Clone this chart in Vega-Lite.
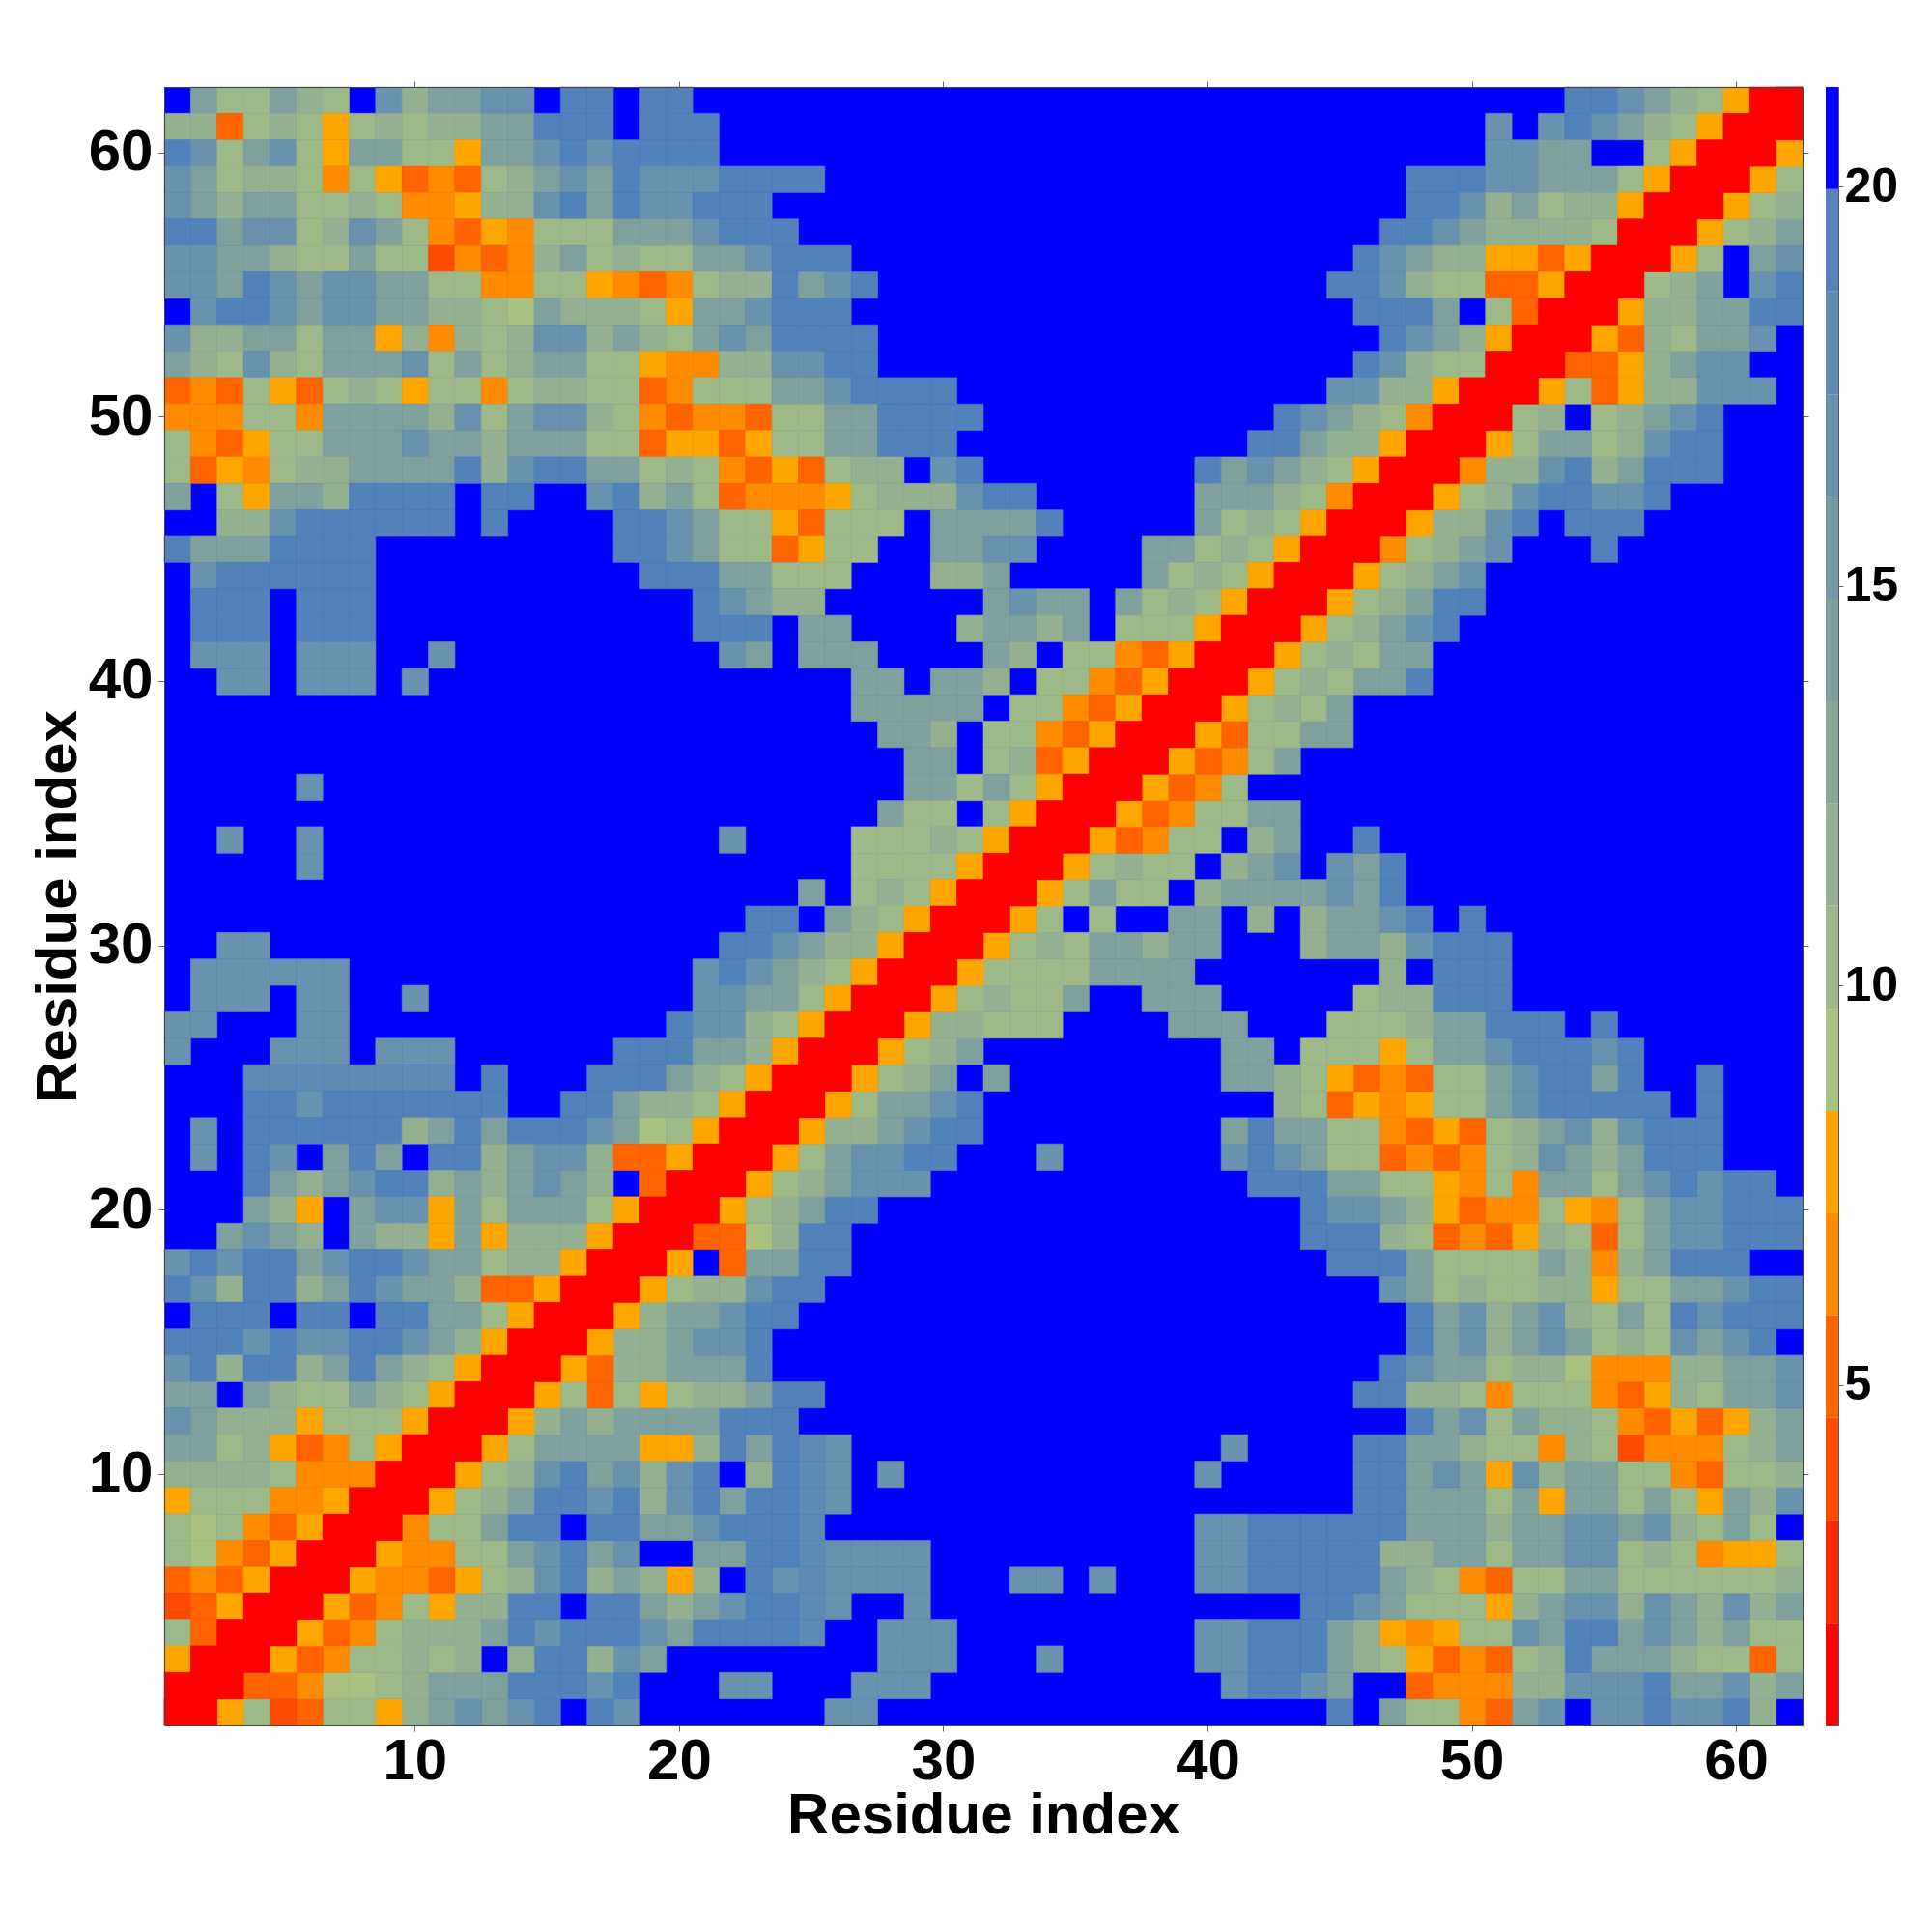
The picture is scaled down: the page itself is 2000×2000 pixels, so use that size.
{"$schema":"https://vega.github.io/schema/vega-lite/v6.json","background":"white","padding":{"left":30,"top":83,"right":0,"bottom":0},"spacing":16,"config":{"view":{"stroke":null},"font":"Liberation Sans"},"hconcat":[{"width":1696,"height":1696,"view":{"fill":"#0000ff"},"resolve":{"axis":{"x":"independent","y":"independent"}},"data":{"name":"cells"},"layer":[{"mark":{"type":"rect","strokeWidth":0.6},"encoding":{"x":{"field":"x","type":"ordinal","scale":{"domain":[1,2,3,4,5,6,7,8,9,10,11,12,13,14,15,16,17,18,19,20,21,22,23,24,25,26,27,28,29,30,31,32,33,34,35,36,37,38,39,40,41,42,43,44,45,46,47,48,49,50,51,52,53,54,55,56,57,58,59,60,61,62],"paddingInner":0,"paddingOuter":0},"axis":{"orient":"bottom","values":[10,20,30,40,50,60],"labelAngle":0,"labelFontSize":60,"labelFontWeight":"bold","labelColor":"black","labelPadding":2,"tickSize":6,"tickColor":"#666","domainColor":"#444","title":"Residue index","titleFontSize":60,"titleFontWeight":"bold","titleColor":"black","titlePadding":-3}},"y":{"field":"y","type":"ordinal","scale":{"domain":[1,2,3,4,5,6,7,8,9,10,11,12,13,14,15,16,17,18,19,20,21,22,23,24,25,26,27,28,29,30,31,32,33,34,35,36,37,38,39,40,41,42,43,44,45,46,47,48,49,50,51,52,53,54,55,56,57,58,59,60,61,62],"paddingInner":0,"paddingOuter":0,"reverse":true},"axis":{"orient":"left","values":[10,20,30,40,50,60],"labelAngle":0,"labelFontSize":60,"labelFontWeight":"bold","labelColor":"black","labelPadding":6,"tickSize":6,"tickColor":"#666","domainColor":"#444","title":"Residue index","titleFontSize":60,"titleFontWeight":"bold","titleColor":"black","titlePadding":0}},"color":{"field":"v","type":"quantitative","legend":null,"scale":{"type":"threshold","domain":[2.02,3.3,4.59,5.87,7.15,8.43,9.71,11,12.28,13.56,14.84,16.12,17.4,18.69,19.97],"range":["#ff0000","#ff2800","#ff4b00","#ff6400","#ff8c00","#ffa500","#a9c181","#9eb988","#93b190","#89a997","#7ea19e","#739aa5","#6892ad","#5e8ab4","#5382bb","#0000ff"]}},"stroke":{"field":"v","type":"quantitative","legend":null,"scale":{"type":"threshold","domain":[2.02,3.3,4.59,5.87,7.15,8.43,9.71,11,12.28,13.56,14.84,16.12,17.4,18.69,19.97],"range":["#ff0000","#ff2800","#ff4b00","#ff6400","#ff8c00","#ffa500","#a9c181","#9eb988","#93b190","#89a997","#7ea19e","#739aa5","#6892ad","#5e8ab4","#5382bb","#0000ff"]}}}},{"mark":{"type":"rect","strokeWidth":0.6},"encoding":{"x":{"field":"y","type":"ordinal","axis":null},"y":{"field":"x","type":"ordinal","axis":null},"color":{"field":"v","type":"quantitative","legend":null,"scale":{"type":"threshold","domain":[2.02,3.3,4.59,5.87,7.15,8.43,9.71,11,12.28,13.56,14.84,16.12,17.4,18.69,19.97],"range":["#ff0000","#ff2800","#ff4b00","#ff6400","#ff8c00","#ffa500","#a9c181","#9eb988","#93b190","#89a997","#7ea19e","#739aa5","#6892ad","#5e8ab4","#5382bb","#0000ff"]}},"stroke":{"field":"v","type":"quantitative","legend":null,"scale":{"type":"threshold","domain":[2.02,3.3,4.59,5.87,7.15,8.43,9.71,11,12.28,13.56,14.84,16.12,17.4,18.69,19.97],"range":["#ff0000","#ff2800","#ff4b00","#ff6400","#ff8c00","#ffa500","#a9c181","#9eb988","#93b190","#89a997","#7ea19e","#739aa5","#6892ad","#5e8ab4","#5382bb","#0000ff"]}}}},{"data":{"values":[{"x":1,"y":1}]},"mark":{"type":"rect","opacity":0},"encoding":{"x":{"field":"x","type":"ordinal","axis":{"orient":"top","values":[10,20,30,40,50,60],"labels":false,"tickSize":6,"tickColor":"#666","domainColor":"#444","title":null}},"y":{"field":"y","type":"ordinal","axis":{"orient":"right","values":[10,20,30,40,50,60],"labels":false,"tickSize":6,"tickColor":"#666","domainColor":"#444","title":null}}}}]},{"width":13,"height":1696,"view":{"stroke":"#556"},"data":{"values":[{"lo":0.74,"hi":2.02,"v":1},{"lo":2.02,"hi":3.3,"v":3},{"lo":3.3,"hi":4.59,"v":4},{"lo":4.59,"hi":5.87,"v":5},{"lo":5.87,"hi":7.15,"v":6},{"lo":7.15,"hi":8.43,"v":8},{"lo":8.43,"hi":9.71,"v":9},{"lo":9.71,"hi":11,"v":10},{"lo":11,"hi":12.28,"v":12},{"lo":12.28,"hi":13.56,"v":13},{"lo":13.56,"hi":14.84,"v":14},{"lo":14.84,"hi":16.12,"v":15},{"lo":16.12,"hi":17.4,"v":17},{"lo":17.4,"hi":18.69,"v":18},{"lo":18.69,"hi":19.97,"v":19},{"lo":19.97,"hi":21.25,"v":21}]},"mark":{"type":"rect","strokeWidth":0},"encoding":{"y":{"field":"lo","type":"quantitative","scale":{"domain":[0.74,21.25],"nice":false,"zero":false},"axis":{"orient":"right","values":[5,10,15,20],"grid":false,"labelFontSize":50,"labelFontWeight":"bold","labelColor":"black","labelPadding":1,"tickSize":5,"tickColor":"#666","domainColor":"#556","title":null}},"y2":{"field":"hi"},"color":{"field":"v","type":"quantitative","legend":null,"scale":{"type":"threshold","domain":[2.02,3.3,4.59,5.87,7.15,8.43,9.71,11,12.28,13.56,14.84,16.12,17.4,18.69,19.97],"range":["#ff0000","#ff2800","#ff4b00","#ff6400","#ff8c00","#ffa500","#a9c181","#9eb988","#93b190","#89a997","#7ea19e","#739aa5","#6892ad","#5e8ab4","#5382bb","#0000ff"]}}}}],"datasets":{"cells":[
{"x":2,"y":62,"v":14},{"x":3,"y":62,"v":10},{"x":4,"y":62,"v":10},{"x":5,"y":62,"v":14},{"x":6,"y":62,"v":12},{"x":7,"y":62,"v":10},{"x":9,"y":62,"v":17},{"x":10,"y":62,"v":12},{"x":11,"y":62,"v":14},{"x":12,"y":62,"v":14},{"x":13,"y":62,"v":17},{"x":14,"y":62,"v":17},{"x":16,"y":62,"v":19},{"x":17,"y":62,"v":19},{"x":19,"y":62,"v":19},{"x":20,"y":62,"v":19},{"x":54,"y":62,"v":19},{"x":55,"y":62,"v":19},{"x":56,"y":62,"v":17},{"x":57,"y":62,"v":14},{"x":58,"y":62,"v":12},{"x":59,"y":62,"v":10},{"x":60,"y":62,"v":8},{"x":61,"y":62,"v":1},{"x":62,"y":62,"v":1},
{"x":1,"y":61,"v":12},{"x":2,"y":61,"v":12},{"x":3,"y":61,"v":5},{"x":4,"y":61,"v":10},{"x":5,"y":61,"v":12},{"x":6,"y":61,"v":10},{"x":7,"y":61,"v":8},{"x":8,"y":61,"v":10},{"x":9,"y":61,"v":12},{"x":10,"y":61,"v":10},{"x":11,"y":61,"v":12},{"x":12,"y":61,"v":12},{"x":13,"y":61,"v":14},{"x":14,"y":61,"v":14},{"x":15,"y":61,"v":19},{"x":16,"y":61,"v":19},{"x":17,"y":61,"v":19},{"x":19,"y":61,"v":19},{"x":20,"y":61,"v":19},{"x":21,"y":61,"v":19},{"x":51,"y":61,"v":17},{"x":53,"y":61,"v":17},{"x":54,"y":61,"v":19},{"x":55,"y":61,"v":17},{"x":56,"y":61,"v":14},{"x":57,"y":61,"v":12},{"x":58,"y":61,"v":10},{"x":59,"y":61,"v":8},{"x":60,"y":61,"v":1},{"x":61,"y":61,"v":1},
{"x":1,"y":60,"v":19},{"x":2,"y":60,"v":17},{"x":3,"y":60,"v":10},{"x":4,"y":60,"v":14},{"x":5,"y":60,"v":17},{"x":6,"y":60,"v":10},{"x":7,"y":60,"v":8},{"x":8,"y":60,"v":14},{"x":9,"y":60,"v":14},{"x":10,"y":60,"v":10},{"x":11,"y":60,"v":10},{"x":12,"y":60,"v":8},{"x":13,"y":60,"v":14},{"x":14,"y":60,"v":14},{"x":15,"y":60,"v":17},{"x":16,"y":60,"v":19},{"x":17,"y":60,"v":17},{"x":18,"y":60,"v":19},{"x":19,"y":60,"v":19},{"x":20,"y":60,"v":19},{"x":21,"y":60,"v":19},{"x":51,"y":60,"v":17},{"x":52,"y":60,"v":17},{"x":53,"y":60,"v":14},{"x":54,"y":60,"v":14},{"x":57,"y":60,"v":10},{"x":58,"y":60,"v":8},{"x":59,"y":60,"v":1},{"x":60,"y":60,"v":1},
{"x":1,"y":59,"v":17},{"x":2,"y":59,"v":14},{"x":3,"y":59,"v":10},{"x":4,"y":59,"v":12},{"x":5,"y":59,"v":12},{"x":6,"y":59,"v":10},{"x":7,"y":59,"v":6},{"x":8,"y":59,"v":10},{"x":9,"y":59,"v":8},{"x":10,"y":59,"v":5},{"x":11,"y":59,"v":6},{"x":12,"y":59,"v":5},{"x":13,"y":59,"v":10},{"x":14,"y":59,"v":12},{"x":15,"y":59,"v":14},{"x":16,"y":59,"v":17},{"x":17,"y":59,"v":14},{"x":18,"y":59,"v":19},{"x":19,"y":59,"v":17},{"x":20,"y":59,"v":17},{"x":21,"y":59,"v":17},{"x":22,"y":59,"v":19},{"x":23,"y":59,"v":19},{"x":24,"y":59,"v":19},{"x":25,"y":59,"v":19},{"x":48,"y":59,"v":19},{"x":49,"y":59,"v":19},{"x":50,"y":59,"v":19},{"x":51,"y":59,"v":17},{"x":52,"y":59,"v":17},{"x":53,"y":59,"v":14},{"x":54,"y":59,"v":14},{"x":55,"y":59,"v":14},{"x":56,"y":59,"v":10},{"x":57,"y":59,"v":8},{"x":58,"y":59,"v":1},{"x":59,"y":59,"v":1},
{"x":1,"y":58,"v":17},{"x":2,"y":58,"v":14},{"x":3,"y":58,"v":12},{"x":4,"y":58,"v":14},{"x":5,"y":58,"v":14},{"x":6,"y":58,"v":10},{"x":7,"y":58,"v":10},{"x":8,"y":58,"v":12},{"x":9,"y":58,"v":10},{"x":10,"y":58,"v":6},{"x":11,"y":58,"v":6},{"x":12,"y":58,"v":8},{"x":13,"y":58,"v":12},{"x":14,"y":58,"v":12},{"x":15,"y":58,"v":17},{"x":16,"y":58,"v":19},{"x":17,"y":58,"v":14},{"x":18,"y":58,"v":19},{"x":19,"y":58,"v":17},{"x":20,"y":58,"v":17},{"x":21,"y":58,"v":19},{"x":22,"y":58,"v":19},{"x":23,"y":58,"v":19},{"x":48,"y":58,"v":19},{"x":49,"y":58,"v":19},{"x":50,"y":58,"v":17},{"x":51,"y":58,"v":12},{"x":52,"y":58,"v":14},{"x":53,"y":58,"v":10},{"x":54,"y":58,"v":12},{"x":55,"y":58,"v":12},{"x":56,"y":58,"v":8},{"x":57,"y":58,"v":1},{"x":58,"y":58,"v":1},
{"x":1,"y":57,"v":19},{"x":2,"y":57,"v":19},{"x":3,"y":57,"v":14},{"x":4,"y":57,"v":17},{"x":5,"y":57,"v":17},{"x":6,"y":57,"v":10},{"x":7,"y":57,"v":12},{"x":8,"y":57,"v":17},{"x":9,"y":57,"v":14},{"x":10,"y":57,"v":10},{"x":11,"y":57,"v":6},{"x":12,"y":57,"v":5},{"x":13,"y":57,"v":8},{"x":14,"y":57,"v":6},{"x":15,"y":57,"v":10},{"x":16,"y":57,"v":10},{"x":17,"y":57,"v":10},{"x":18,"y":57,"v":14},{"x":19,"y":57,"v":14},{"x":20,"y":57,"v":14},{"x":21,"y":57,"v":17},{"x":22,"y":57,"v":19},{"x":23,"y":57,"v":19},{"x":24,"y":57,"v":19},{"x":47,"y":57,"v":19},{"x":48,"y":57,"v":19},{"x":49,"y":57,"v":17},{"x":50,"y":57,"v":14},{"x":51,"y":57,"v":12},{"x":52,"y":57,"v":12},{"x":53,"y":57,"v":12},{"x":54,"y":57,"v":12},{"x":55,"y":57,"v":10},{"x":56,"y":57,"v":1},{"x":57,"y":57,"v":1},
{"x":1,"y":56,"v":17},{"x":2,"y":56,"v":17},{"x":3,"y":56,"v":14},{"x":4,"y":56,"v":14},{"x":5,"y":56,"v":12},{"x":6,"y":56,"v":10},{"x":7,"y":56,"v":10},{"x":8,"y":56,"v":14},{"x":9,"y":56,"v":10},{"x":10,"y":56,"v":10},{"x":11,"y":56,"v":4},{"x":12,"y":56,"v":6},{"x":13,"y":56,"v":5},{"x":14,"y":56,"v":6},{"x":15,"y":56,"v":12},{"x":16,"y":56,"v":14},{"x":17,"y":56,"v":10},{"x":18,"y":56,"v":12},{"x":19,"y":56,"v":10},{"x":20,"y":56,"v":10},{"x":21,"y":56,"v":14},{"x":22,"y":56,"v":14},{"x":23,"y":56,"v":17},{"x":24,"y":56,"v":19},{"x":25,"y":56,"v":19},{"x":26,"y":56,"v":19},{"x":46,"y":56,"v":19},{"x":47,"y":56,"v":17},{"x":48,"y":56,"v":14},{"x":49,"y":56,"v":12},{"x":50,"y":56,"v":12},{"x":51,"y":56,"v":8},{"x":52,"y":56,"v":8},{"x":53,"y":56,"v":5},{"x":54,"y":56,"v":8},{"x":55,"y":56,"v":1},{"x":56,"y":56,"v":1},
{"x":1,"y":55,"v":17},{"x":2,"y":55,"v":17},{"x":3,"y":55,"v":14},{"x":4,"y":55,"v":19},{"x":5,"y":55,"v":17},{"x":6,"y":55,"v":14},{"x":7,"y":55,"v":17},{"x":8,"y":55,"v":17},{"x":9,"y":55,"v":14},{"x":10,"y":55,"v":14},{"x":11,"y":55,"v":10},{"x":12,"y":55,"v":10},{"x":13,"y":55,"v":6},{"x":14,"y":55,"v":6},{"x":15,"y":55,"v":10},{"x":16,"y":55,"v":10},{"x":17,"y":55,"v":8},{"x":18,"y":55,"v":6},{"x":19,"y":55,"v":5},{"x":20,"y":55,"v":6},{"x":21,"y":55,"v":10},{"x":22,"y":55,"v":12},{"x":23,"y":55,"v":12},{"x":24,"y":55,"v":19},{"x":25,"y":55,"v":14},{"x":26,"y":55,"v":17},{"x":27,"y":55,"v":19},{"x":45,"y":55,"v":19},{"x":46,"y":55,"v":19},{"x":47,"y":55,"v":17},{"x":48,"y":55,"v":12},{"x":49,"y":55,"v":10},{"x":50,"y":55,"v":10},{"x":51,"y":55,"v":5},{"x":52,"y":55,"v":5},{"x":53,"y":55,"v":8},{"x":54,"y":55,"v":1},{"x":55,"y":55,"v":1},
{"x":2,"y":54,"v":17},{"x":3,"y":54,"v":19},{"x":4,"y":54,"v":19},{"x":5,"y":54,"v":17},{"x":6,"y":54,"v":14},{"x":7,"y":54,"v":17},{"x":8,"y":54,"v":17},{"x":9,"y":54,"v":14},{"x":10,"y":54,"v":14},{"x":11,"y":54,"v":12},{"x":12,"y":54,"v":12},{"x":13,"y":54,"v":10},{"x":14,"y":54,"v":9},{"x":15,"y":54,"v":14},{"x":16,"y":54,"v":12},{"x":17,"y":54,"v":12},{"x":18,"y":54,"v":12},{"x":19,"y":54,"v":10},{"x":20,"y":54,"v":8},{"x":21,"y":54,"v":14},{"x":22,"y":54,"v":14},{"x":23,"y":54,"v":17},{"x":24,"y":54,"v":19},{"x":25,"y":54,"v":19},{"x":26,"y":54,"v":19},{"x":46,"y":54,"v":19},{"x":47,"y":54,"v":19},{"x":48,"y":54,"v":19},{"x":49,"y":54,"v":14},{"x":51,"y":54,"v":10},{"x":52,"y":54,"v":5},{"x":53,"y":54,"v":1},{"x":54,"y":54,"v":1},
{"x":1,"y":53,"v":17},{"x":2,"y":53,"v":12},{"x":3,"y":53,"v":12},{"x":4,"y":53,"v":14},{"x":5,"y":53,"v":14},{"x":6,"y":53,"v":10},{"x":7,"y":53,"v":14},{"x":8,"y":53,"v":14},{"x":9,"y":53,"v":8},{"x":10,"y":53,"v":12},{"x":11,"y":53,"v":6},{"x":12,"y":53,"v":12},{"x":13,"y":53,"v":10},{"x":14,"y":53,"v":12},{"x":15,"y":53,"v":17},{"x":16,"y":53,"v":17},{"x":17,"y":53,"v":12},{"x":18,"y":53,"v":14},{"x":19,"y":53,"v":12},{"x":20,"y":53,"v":10},{"x":21,"y":53,"v":14},{"x":22,"y":53,"v":17},{"x":23,"y":53,"v":14},{"x":24,"y":53,"v":19},{"x":25,"y":53,"v":19},{"x":26,"y":53,"v":19},{"x":27,"y":53,"v":19},{"x":47,"y":53,"v":19},{"x":48,"y":53,"v":17},{"x":49,"y":53,"v":14},{"x":50,"y":53,"v":12},{"x":51,"y":53,"v":8},{"x":52,"y":53,"v":1},{"x":53,"y":53,"v":1},
{"x":1,"y":52,"v":14},{"x":2,"y":52,"v":12},{"x":3,"y":52,"v":10},{"x":4,"y":52,"v":17},{"x":5,"y":52,"v":12},{"x":6,"y":52,"v":10},{"x":7,"y":52,"v":14},{"x":8,"y":52,"v":14},{"x":9,"y":52,"v":14},{"x":10,"y":52,"v":17},{"x":11,"y":52,"v":10},{"x":12,"y":52,"v":14},{"x":13,"y":52,"v":10},{"x":14,"y":52,"v":12},{"x":15,"y":52,"v":14},{"x":16,"y":52,"v":14},{"x":17,"y":52,"v":10},{"x":18,"y":52,"v":10},{"x":19,"y":52,"v":8},{"x":20,"y":52,"v":6},{"x":21,"y":52,"v":6},{"x":22,"y":52,"v":12},{"x":23,"y":52,"v":12},{"x":24,"y":52,"v":17},{"x":25,"y":52,"v":17},{"x":26,"y":52,"v":19},{"x":27,"y":52,"v":19},{"x":46,"y":52,"v":19},{"x":47,"y":52,"v":17},{"x":48,"y":52,"v":12},{"x":49,"y":52,"v":10},{"x":50,"y":52,"v":10},{"x":51,"y":52,"v":1},{"x":52,"y":52,"v":1},
{"x":1,"y":51,"v":5},{"x":2,"y":51,"v":6},{"x":3,"y":51,"v":5},{"x":4,"y":51,"v":10},{"x":5,"y":51,"v":8},{"x":6,"y":51,"v":5},{"x":7,"y":51,"v":10},{"x":8,"y":51,"v":12},{"x":9,"y":51,"v":10},{"x":10,"y":51,"v":8},{"x":11,"y":51,"v":10},{"x":12,"y":51,"v":10},{"x":13,"y":51,"v":6},{"x":14,"y":51,"v":10},{"x":15,"y":51,"v":12},{"x":16,"y":51,"v":12},{"x":17,"y":51,"v":10},{"x":18,"y":51,"v":10},{"x":19,"y":51,"v":5},{"x":20,"y":51,"v":6},{"x":21,"y":51,"v":10},{"x":22,"y":51,"v":10},{"x":23,"y":51,"v":10},{"x":24,"y":51,"v":14},{"x":25,"y":51,"v":14},{"x":26,"y":51,"v":17},{"x":27,"y":51,"v":19},{"x":28,"y":51,"v":19},{"x":29,"y":51,"v":19},{"x":30,"y":51,"v":19},{"x":45,"y":51,"v":17},{"x":46,"y":51,"v":17},{"x":47,"y":51,"v":12},{"x":48,"y":51,"v":12},{"x":49,"y":51,"v":8},{"x":50,"y":51,"v":1},{"x":51,"y":51,"v":1},
{"x":1,"y":50,"v":6},{"x":2,"y":50,"v":6},{"x":3,"y":50,"v":6},{"x":4,"y":50,"v":10},{"x":5,"y":50,"v":10},{"x":6,"y":50,"v":6},{"x":7,"y":50,"v":14},{"x":8,"y":50,"v":14},{"x":9,"y":50,"v":14},{"x":10,"y":50,"v":14},{"x":11,"y":50,"v":12},{"x":12,"y":50,"v":17},{"x":13,"y":50,"v":10},{"x":14,"y":50,"v":14},{"x":15,"y":50,"v":17},{"x":16,"y":50,"v":17},{"x":17,"y":50,"v":12},{"x":18,"y":50,"v":10},{"x":19,"y":50,"v":6},{"x":20,"y":50,"v":5},{"x":21,"y":50,"v":6},{"x":22,"y":50,"v":6},{"x":23,"y":50,"v":5},{"x":24,"y":50,"v":10},{"x":25,"y":50,"v":10},{"x":26,"y":50,"v":14},{"x":27,"y":50,"v":14},{"x":28,"y":50,"v":19},{"x":29,"y":50,"v":19},{"x":30,"y":50,"v":19},{"x":31,"y":50,"v":19},{"x":43,"y":50,"v":19},{"x":44,"y":50,"v":17},{"x":45,"y":50,"v":14},{"x":46,"y":50,"v":12},{"x":47,"y":50,"v":10},{"x":48,"y":50,"v":6},{"x":49,"y":50,"v":1},{"x":50,"y":50,"v":1},
{"x":1,"y":49,"v":10},{"x":2,"y":49,"v":6},{"x":3,"y":49,"v":5},{"x":4,"y":49,"v":8},{"x":5,"y":49,"v":10},{"x":6,"y":49,"v":10},{"x":7,"y":49,"v":14},{"x":8,"y":49,"v":14},{"x":9,"y":49,"v":14},{"x":10,"y":49,"v":17},{"x":11,"y":49,"v":14},{"x":12,"y":49,"v":14},{"x":13,"y":49,"v":12},{"x":14,"y":49,"v":14},{"x":15,"y":49,"v":14},{"x":16,"y":49,"v":14},{"x":17,"y":49,"v":10},{"x":18,"y":49,"v":10},{"x":19,"y":49,"v":5},{"x":20,"y":49,"v":8},{"x":21,"y":49,"v":8},{"x":22,"y":49,"v":5},{"x":23,"y":49,"v":8},{"x":24,"y":49,"v":10},{"x":25,"y":49,"v":10},{"x":26,"y":49,"v":14},{"x":27,"y":49,"v":14},{"x":28,"y":49,"v":19},{"x":29,"y":49,"v":19},{"x":30,"y":49,"v":19},{"x":42,"y":49,"v":19},{"x":43,"y":49,"v":19},{"x":44,"y":49,"v":14},{"x":45,"y":49,"v":12},{"x":46,"y":49,"v":12},{"x":47,"y":49,"v":8},{"x":48,"y":49,"v":1},{"x":49,"y":49,"v":1},
{"x":1,"y":48,"v":10},{"x":2,"y":48,"v":5},{"x":3,"y":48,"v":8},{"x":4,"y":48,"v":6},{"x":5,"y":48,"v":10},{"x":6,"y":48,"v":12},{"x":7,"y":48,"v":12},{"x":8,"y":48,"v":14},{"x":9,"y":48,"v":14},{"x":10,"y":48,"v":14},{"x":11,"y":48,"v":14},{"x":12,"y":48,"v":19},{"x":13,"y":48,"v":12},{"x":14,"y":48,"v":17},{"x":15,"y":48,"v":19},{"x":16,"y":48,"v":19},{"x":17,"y":48,"v":14},{"x":18,"y":48,"v":14},{"x":19,"y":48,"v":10},{"x":20,"y":48,"v":12},{"x":21,"y":48,"v":10},{"x":22,"y":48,"v":6},{"x":23,"y":48,"v":5},{"x":24,"y":48,"v":8},{"x":25,"y":48,"v":5},{"x":26,"y":48,"v":10},{"x":27,"y":48,"v":12},{"x":28,"y":48,"v":12},{"x":30,"y":48,"v":17},{"x":31,"y":48,"v":19},{"x":40,"y":48,"v":19},{"x":41,"y":48,"v":14},{"x":42,"y":48,"v":17},{"x":43,"y":48,"v":14},{"x":44,"y":48,"v":12},{"x":45,"y":48,"v":10},{"x":46,"y":48,"v":8},{"x":47,"y":48,"v":1},{"x":48,"y":48,"v":1},
{"x":1,"y":47,"v":14},{"x":3,"y":47,"v":10},{"x":4,"y":47,"v":8},{"x":5,"y":47,"v":14},{"x":6,"y":47,"v":14},{"x":7,"y":47,"v":12},{"x":8,"y":47,"v":19},{"x":9,"y":47,"v":19},{"x":10,"y":47,"v":19},{"x":11,"y":47,"v":19},{"x":13,"y":47,"v":19},{"x":14,"y":47,"v":19},{"x":17,"y":47,"v":17},{"x":18,"y":47,"v":19},{"x":19,"y":47,"v":12},{"x":20,"y":47,"v":14},{"x":21,"y":47,"v":10},{"x":22,"y":47,"v":5},{"x":23,"y":47,"v":6},{"x":24,"y":47,"v":6},{"x":25,"y":47,"v":6},{"x":26,"y":47,"v":8},{"x":27,"y":47,"v":10},{"x":28,"y":47,"v":12},{"x":29,"y":47,"v":12},{"x":30,"y":47,"v":12},{"x":31,"y":47,"v":17},{"x":32,"y":47,"v":19},{"x":33,"y":47,"v":19},{"x":40,"y":47,"v":14},{"x":41,"y":47,"v":14},{"x":42,"y":47,"v":14},{"x":43,"y":47,"v":12},{"x":44,"y":47,"v":10},{"x":45,"y":47,"v":6},{"x":46,"y":47,"v":1},{"x":47,"y":47,"v":1},
{"x":3,"y":46,"v":12},{"x":4,"y":46,"v":12},{"x":5,"y":46,"v":17},{"x":6,"y":46,"v":19},{"x":7,"y":46,"v":19},{"x":8,"y":46,"v":19},{"x":9,"y":46,"v":19},{"x":10,"y":46,"v":19},{"x":11,"y":46,"v":19},{"x":13,"y":46,"v":19},{"x":18,"y":46,"v":19},{"x":19,"y":46,"v":19},{"x":20,"y":46,"v":17},{"x":21,"y":46,"v":14},{"x":22,"y":46,"v":10},{"x":23,"y":46,"v":10},{"x":24,"y":46,"v":8},{"x":25,"y":46,"v":5},{"x":26,"y":46,"v":10},{"x":27,"y":46,"v":10},{"x":28,"y":46,"v":10},{"x":30,"y":46,"v":14},{"x":31,"y":46,"v":14},{"x":32,"y":46,"v":14},{"x":33,"y":46,"v":14},{"x":34,"y":46,"v":19},{"x":40,"y":46,"v":14},{"x":41,"y":46,"v":10},{"x":42,"y":46,"v":12},{"x":43,"y":46,"v":10},{"x":44,"y":46,"v":8},{"x":45,"y":46,"v":1},{"x":46,"y":46,"v":1},
{"x":1,"y":45,"v":19},{"x":2,"y":45,"v":14},{"x":3,"y":45,"v":14},{"x":4,"y":45,"v":14},{"x":5,"y":45,"v":19},{"x":6,"y":45,"v":19},{"x":7,"y":45,"v":19},{"x":8,"y":45,"v":19},{"x":18,"y":45,"v":19},{"x":19,"y":45,"v":19},{"x":20,"y":45,"v":17},{"x":21,"y":45,"v":14},{"x":22,"y":45,"v":10},{"x":23,"y":45,"v":10},{"x":24,"y":45,"v":5},{"x":25,"y":45,"v":8},{"x":26,"y":45,"v":10},{"x":27,"y":45,"v":10},{"x":30,"y":45,"v":14},{"x":31,"y":45,"v":14},{"x":32,"y":45,"v":17},{"x":33,"y":45,"v":17},{"x":38,"y":45,"v":14},{"x":39,"y":45,"v":14},{"x":40,"y":45,"v":10},{"x":41,"y":45,"v":12},{"x":42,"y":45,"v":10},{"x":43,"y":45,"v":8},{"x":44,"y":45,"v":1},{"x":45,"y":45,"v":1},
{"x":2,"y":44,"v":17},{"x":3,"y":44,"v":19},{"x":4,"y":44,"v":19},{"x":5,"y":44,"v":19},{"x":6,"y":44,"v":19},{"x":7,"y":44,"v":19},{"x":8,"y":44,"v":19},{"x":19,"y":44,"v":19},{"x":20,"y":44,"v":19},{"x":21,"y":44,"v":19},{"x":22,"y":44,"v":14},{"x":23,"y":44,"v":14},{"x":24,"y":44,"v":10},{"x":25,"y":44,"v":10},{"x":26,"y":44,"v":10},{"x":30,"y":44,"v":12},{"x":31,"y":44,"v":12},{"x":32,"y":44,"v":14},{"x":38,"y":44,"v":14},{"x":39,"y":44,"v":10},{"x":40,"y":44,"v":12},{"x":41,"y":44,"v":10},{"x":42,"y":44,"v":8},{"x":43,"y":44,"v":1},{"x":44,"y":44,"v":1},
{"x":2,"y":43,"v":19},{"x":3,"y":43,"v":19},{"x":4,"y":43,"v":19},{"x":6,"y":43,"v":19},{"x":7,"y":43,"v":19},{"x":8,"y":43,"v":19},{"x":21,"y":43,"v":19},{"x":22,"y":43,"v":17},{"x":23,"y":43,"v":14},{"x":24,"y":43,"v":12},{"x":25,"y":43,"v":12},{"x":32,"y":43,"v":14},{"x":33,"y":43,"v":17},{"x":34,"y":43,"v":14},{"x":35,"y":43,"v":14},{"x":37,"y":43,"v":14},{"x":38,"y":43,"v":10},{"x":39,"y":43,"v":12},{"x":40,"y":43,"v":10},{"x":41,"y":43,"v":8},{"x":42,"y":43,"v":1},{"x":43,"y":43,"v":1},
{"x":2,"y":42,"v":19},{"x":3,"y":42,"v":19},{"x":4,"y":42,"v":19},{"x":6,"y":42,"v":19},{"x":7,"y":42,"v":19},{"x":8,"y":42,"v":19},{"x":21,"y":42,"v":19},{"x":22,"y":42,"v":19},{"x":23,"y":42,"v":19},{"x":25,"y":42,"v":14},{"x":26,"y":42,"v":14},{"x":31,"y":42,"v":12},{"x":32,"y":42,"v":14},{"x":33,"y":42,"v":14},{"x":34,"y":42,"v":12},{"x":35,"y":42,"v":14},{"x":37,"y":42,"v":10},{"x":38,"y":42,"v":10},{"x":39,"y":42,"v":10},{"x":40,"y":42,"v":8},{"x":41,"y":42,"v":1},{"x":42,"y":42,"v":1},
{"x":2,"y":41,"v":17},{"x":3,"y":41,"v":17},{"x":4,"y":41,"v":17},{"x":6,"y":41,"v":17},{"x":7,"y":41,"v":17},{"x":8,"y":41,"v":17},{"x":11,"y":41,"v":17},{"x":22,"y":41,"v":17},{"x":23,"y":41,"v":14},{"x":25,"y":41,"v":14},{"x":26,"y":41,"v":14},{"x":27,"y":41,"v":14},{"x":32,"y":41,"v":14},{"x":33,"y":41,"v":12},{"x":35,"y":41,"v":10},{"x":36,"y":41,"v":10},{"x":37,"y":41,"v":6},{"x":38,"y":41,"v":5},{"x":39,"y":41,"v":8},{"x":40,"y":41,"v":1},{"x":41,"y":41,"v":1},
{"x":3,"y":40,"v":17},{"x":4,"y":40,"v":17},{"x":6,"y":40,"v":17},{"x":7,"y":40,"v":17},{"x":8,"y":40,"v":17},{"x":10,"y":40,"v":17},{"x":27,"y":40,"v":14},{"x":28,"y":40,"v":14},{"x":30,"y":40,"v":14},{"x":31,"y":40,"v":14},{"x":32,"y":40,"v":12},{"x":34,"y":40,"v":10},{"x":35,"y":40,"v":10},{"x":36,"y":40,"v":6},{"x":37,"y":40,"v":5},{"x":38,"y":40,"v":8},{"x":39,"y":40,"v":1},{"x":40,"y":40,"v":1},
{"x":27,"y":39,"v":14},{"x":28,"y":39,"v":14},{"x":29,"y":39,"v":14},{"x":30,"y":39,"v":14},{"x":31,"y":39,"v":14},{"x":33,"y":39,"v":10},{"x":34,"y":39,"v":10},{"x":35,"y":39,"v":6},{"x":36,"y":39,"v":5},{"x":37,"y":39,"v":8},{"x":38,"y":39,"v":1},{"x":39,"y":39,"v":1},
{"x":28,"y":38,"v":14},{"x":29,"y":38,"v":14},{"x":30,"y":38,"v":12},{"x":32,"y":38,"v":10},{"x":33,"y":38,"v":10},{"x":34,"y":38,"v":6},{"x":35,"y":38,"v":5},{"x":36,"y":38,"v":8},{"x":37,"y":38,"v":1},{"x":38,"y":38,"v":1},
{"x":29,"y":37,"v":14},{"x":30,"y":37,"v":14},{"x":32,"y":37,"v":10},{"x":33,"y":37,"v":12},{"x":34,"y":37,"v":5},{"x":35,"y":37,"v":8},{"x":36,"y":37,"v":1},{"x":37,"y":37,"v":1},
{"x":6,"y":36,"v":17},{"x":29,"y":36,"v":14},{"x":30,"y":36,"v":14},{"x":31,"y":36,"v":10},{"x":32,"y":36,"v":14},{"x":33,"y":36,"v":10},{"x":34,"y":36,"v":8},{"x":35,"y":36,"v":1},{"x":36,"y":36,"v":1},
{"x":28,"y":35,"v":14},{"x":29,"y":35,"v":10},{"x":30,"y":35,"v":10},{"x":32,"y":35,"v":10},{"x":33,"y":35,"v":8},{"x":34,"y":35,"v":1},{"x":35,"y":35,"v":1},
{"x":3,"y":34,"v":17},{"x":6,"y":34,"v":17},{"x":22,"y":34,"v":17},{"x":27,"y":34,"v":10},{"x":28,"y":34,"v":10},{"x":29,"y":34,"v":10},{"x":30,"y":34,"v":12},{"x":31,"y":34,"v":10},{"x":32,"y":34,"v":8},{"x":33,"y":34,"v":1},{"x":34,"y":34,"v":1},
{"x":6,"y":33,"v":17},{"x":27,"y":33,"v":10},{"x":28,"y":33,"v":10},{"x":29,"y":33,"v":10},{"x":30,"y":33,"v":10},{"x":31,"y":33,"v":8},{"x":32,"y":33,"v":1},{"x":33,"y":33,"v":1},
{"x":25,"y":32,"v":14},{"x":27,"y":32,"v":10},{"x":28,"y":32,"v":12},{"x":29,"y":32,"v":10},{"x":30,"y":32,"v":8},{"x":31,"y":32,"v":1},{"x":32,"y":32,"v":1},
{"x":23,"y":31,"v":19},{"x":24,"y":31,"v":19},{"x":26,"y":31,"v":14},{"x":27,"y":31,"v":12},{"x":28,"y":31,"v":10},{"x":29,"y":31,"v":8},{"x":30,"y":31,"v":1},{"x":31,"y":31,"v":1},
{"x":3,"y":30,"v":17},{"x":4,"y":30,"v":17},{"x":22,"y":30,"v":19},{"x":23,"y":30,"v":19},{"x":24,"y":30,"v":17},{"x":25,"y":30,"v":14},{"x":26,"y":30,"v":12},{"x":27,"y":30,"v":12},{"x":28,"y":30,"v":8},{"x":29,"y":30,"v":1},{"x":30,"y":30,"v":1},
{"x":2,"y":29,"v":17},{"x":3,"y":29,"v":17},{"x":4,"y":29,"v":17},{"x":5,"y":29,"v":17},{"x":6,"y":29,"v":17},{"x":7,"y":29,"v":17},{"x":21,"y":29,"v":17},{"x":22,"y":29,"v":19},{"x":23,"y":29,"v":17},{"x":24,"y":29,"v":14},{"x":25,"y":29,"v":12},{"x":26,"y":29,"v":10},{"x":27,"y":29,"v":8},{"x":28,"y":29,"v":1},{"x":29,"y":29,"v":1},
{"x":2,"y":28,"v":17},{"x":3,"y":28,"v":17},{"x":4,"y":28,"v":17},{"x":6,"y":28,"v":17},{"x":7,"y":28,"v":17},{"x":10,"y":28,"v":17},{"x":21,"y":28,"v":17},{"x":22,"y":28,"v":17},{"x":23,"y":28,"v":14},{"x":24,"y":28,"v":14},{"x":25,"y":28,"v":10},{"x":26,"y":28,"v":8},{"x":27,"y":28,"v":1},{"x":28,"y":28,"v":1},
{"x":1,"y":27,"v":17},{"x":2,"y":27,"v":17},{"x":6,"y":27,"v":17},{"x":7,"y":27,"v":17},{"x":20,"y":27,"v":19},{"x":21,"y":27,"v":17},{"x":22,"y":27,"v":17},{"x":23,"y":27,"v":12},{"x":24,"y":27,"v":10},{"x":25,"y":27,"v":8},{"x":26,"y":27,"v":1},{"x":27,"y":27,"v":1},
{"x":1,"y":26,"v":17},{"x":5,"y":26,"v":17},{"x":6,"y":26,"v":17},{"x":7,"y":26,"v":17},{"x":9,"y":26,"v":17},{"x":10,"y":26,"v":17},{"x":11,"y":26,"v":17},{"x":18,"y":26,"v":19},{"x":19,"y":26,"v":19},{"x":20,"y":26,"v":19},{"x":21,"y":26,"v":14},{"x":22,"y":26,"v":14},{"x":23,"y":26,"v":12},{"x":24,"y":26,"v":8},{"x":25,"y":26,"v":1},{"x":26,"y":26,"v":1},
{"x":4,"y":25,"v":18},{"x":5,"y":25,"v":18},{"x":6,"y":25,"v":18},{"x":7,"y":25,"v":18},{"x":8,"y":25,"v":18},{"x":9,"y":25,"v":18},{"x":10,"y":25,"v":18},{"x":11,"y":25,"v":18},{"x":13,"y":25,"v":19},{"x":17,"y":25,"v":19},{"x":18,"y":25,"v":19},{"x":19,"y":25,"v":19},{"x":20,"y":25,"v":14},{"x":21,"y":25,"v":12},{"x":22,"y":25,"v":10},{"x":23,"y":25,"v":8},{"x":24,"y":25,"v":1},{"x":25,"y":25,"v":1},
{"x":4,"y":24,"v":19},{"x":5,"y":24,"v":19},{"x":6,"y":24,"v":17},{"x":7,"y":24,"v":19},{"x":8,"y":24,"v":19},{"x":9,"y":24,"v":19},{"x":10,"y":24,"v":19},{"x":11,"y":24,"v":19},{"x":12,"y":24,"v":19},{"x":13,"y":24,"v":19},{"x":16,"y":24,"v":19},{"x":17,"y":24,"v":19},{"x":18,"y":24,"v":14},{"x":19,"y":24,"v":12},{"x":20,"y":24,"v":12},{"x":21,"y":24,"v":10},{"x":22,"y":24,"v":8},{"x":23,"y":24,"v":1},{"x":24,"y":24,"v":1},
{"x":2,"y":23,"v":17},{"x":4,"y":23,"v":19},{"x":5,"y":23,"v":19},{"x":6,"y":23,"v":19},{"x":7,"y":23,"v":19},{"x":8,"y":23,"v":19},{"x":9,"y":23,"v":19},{"x":10,"y":23,"v":12},{"x":11,"y":23,"v":14},{"x":12,"y":23,"v":19},{"x":13,"y":23,"v":14},{"x":14,"y":23,"v":19},{"x":15,"y":23,"v":19},{"x":16,"y":23,"v":19},{"x":17,"y":23,"v":17},{"x":18,"y":23,"v":14},{"x":19,"y":23,"v":9},{"x":20,"y":23,"v":10},{"x":21,"y":23,"v":8},{"x":22,"y":23,"v":1},{"x":23,"y":23,"v":1},
{"x":2,"y":22,"v":17},{"x":4,"y":22,"v":19},{"x":5,"y":22,"v":17},{"x":7,"y":22,"v":14},{"x":8,"y":22,"v":19},{"x":9,"y":22,"v":14},{"x":11,"y":22,"v":19},{"x":12,"y":22,"v":19},{"x":13,"y":22,"v":12},{"x":14,"y":22,"v":14},{"x":15,"y":22,"v":17},{"x":16,"y":22,"v":17},{"x":17,"y":22,"v":12},{"x":18,"y":22,"v":5},{"x":19,"y":22,"v":5},{"x":20,"y":22,"v":8},{"x":21,"y":22,"v":1},{"x":22,"y":22,"v":1},
{"x":4,"y":21,"v":19},{"x":5,"y":21,"v":14},{"x":6,"y":21,"v":12},{"x":7,"y":21,"v":14},{"x":8,"y":21,"v":17},{"x":9,"y":21,"v":19},{"x":10,"y":21,"v":19},{"x":11,"y":21,"v":12},{"x":12,"y":21,"v":14},{"x":13,"y":21,"v":12},{"x":14,"y":21,"v":14},{"x":15,"y":21,"v":17},{"x":16,"y":21,"v":14},{"x":17,"y":21,"v":12},{"x":19,"y":21,"v":5},{"x":20,"y":21,"v":1},{"x":21,"y":21,"v":1},
{"x":4,"y":20,"v":14},{"x":5,"y":20,"v":12},{"x":6,"y":20,"v":8},{"x":8,"y":20,"v":14},{"x":9,"y":20,"v":17},{"x":10,"y":20,"v":17},{"x":11,"y":20,"v":8},{"x":12,"y":20,"v":14},{"x":13,"y":20,"v":10},{"x":14,"y":20,"v":14},{"x":15,"y":20,"v":14},{"x":16,"y":20,"v":14},{"x":17,"y":20,"v":10},{"x":18,"y":20,"v":8},{"x":19,"y":20,"v":1},{"x":20,"y":20,"v":1},
{"x":3,"y":19,"v":14},{"x":4,"y":19,"v":17},{"x":5,"y":19,"v":14},{"x":6,"y":19,"v":12},{"x":8,"y":19,"v":14},{"x":9,"y":19,"v":12},{"x":10,"y":19,"v":12},{"x":11,"y":19,"v":8},{"x":12,"y":19,"v":14},{"x":13,"y":19,"v":8},{"x":14,"y":19,"v":12},{"x":15,"y":19,"v":12},{"x":16,"y":19,"v":12},{"x":17,"y":19,"v":8},{"x":18,"y":19,"v":1},{"x":19,"y":19,"v":1},
{"x":1,"y":18,"v":17},{"x":2,"y":18,"v":19},{"x":3,"y":18,"v":17},{"x":4,"y":18,"v":19},{"x":5,"y":18,"v":19},{"x":6,"y":18,"v":14},{"x":7,"y":18,"v":17},{"x":8,"y":18,"v":19},{"x":9,"y":18,"v":19},{"x":10,"y":18,"v":17},{"x":11,"y":18,"v":14},{"x":12,"y":18,"v":14},{"x":13,"y":18,"v":10},{"x":14,"y":18,"v":12},{"x":15,"y":18,"v":12},{"x":16,"y":18,"v":8},{"x":17,"y":18,"v":1},{"x":18,"y":18,"v":1},
{"x":1,"y":17,"v":19},{"x":2,"y":17,"v":17},{"x":3,"y":17,"v":12},{"x":4,"y":17,"v":19},{"x":5,"y":17,"v":19},{"x":6,"y":17,"v":12},{"x":7,"y":17,"v":14},{"x":8,"y":17,"v":19},{"x":9,"y":17,"v":17},{"x":10,"y":17,"v":14},{"x":11,"y":17,"v":14},{"x":12,"y":17,"v":12},{"x":13,"y":17,"v":5},{"x":14,"y":17,"v":5},{"x":15,"y":17,"v":8},{"x":16,"y":17,"v":1},{"x":17,"y":17,"v":1},
{"x":2,"y":16,"v":19},{"x":3,"y":16,"v":19},{"x":4,"y":16,"v":19},{"x":6,"y":16,"v":19},{"x":7,"y":16,"v":19},{"x":9,"y":16,"v":19},{"x":10,"y":16,"v":19},{"x":11,"y":16,"v":14},{"x":12,"y":16,"v":14},{"x":13,"y":16,"v":10},{"x":14,"y":16,"v":8},{"x":15,"y":16,"v":1},{"x":16,"y":16,"v":1},
{"x":1,"y":15,"v":19},{"x":2,"y":15,"v":19},{"x":3,"y":15,"v":19},{"x":4,"y":15,"v":17},{"x":5,"y":15,"v":19},{"x":6,"y":15,"v":17},{"x":7,"y":15,"v":17},{"x":8,"y":15,"v":19},{"x":9,"y":15,"v":19},{"x":10,"y":15,"v":17},{"x":11,"y":15,"v":14},{"x":12,"y":15,"v":12},{"x":13,"y":15,"v":8},{"x":14,"y":15,"v":1},{"x":15,"y":15,"v":1},
{"x":1,"y":14,"v":17},{"x":2,"y":14,"v":19},{"x":3,"y":14,"v":12},{"x":4,"y":14,"v":19},{"x":5,"y":14,"v":19},{"x":6,"y":14,"v":12},{"x":7,"y":14,"v":14},{"x":8,"y":14,"v":19},{"x":9,"y":14,"v":14},{"x":10,"y":14,"v":12},{"x":11,"y":14,"v":10},{"x":12,"y":14,"v":8},{"x":13,"y":14,"v":1},{"x":14,"y":14,"v":1},
{"x":1,"y":13,"v":14},{"x":2,"y":13,"v":14},{"x":4,"y":13,"v":14},{"x":5,"y":13,"v":12},{"x":6,"y":13,"v":10},{"x":7,"y":13,"v":10},{"x":8,"y":13,"v":14},{"x":9,"y":13,"v":12},{"x":10,"y":13,"v":10},{"x":11,"y":13,"v":8},{"x":12,"y":13,"v":1},{"x":13,"y":13,"v":1},
{"x":1,"y":12,"v":17},{"x":2,"y":12,"v":14},{"x":3,"y":12,"v":12},{"x":4,"y":12,"v":12},{"x":5,"y":12,"v":12},{"x":6,"y":12,"v":8},{"x":7,"y":12,"v":10},{"x":8,"y":12,"v":10},{"x":9,"y":12,"v":10},{"x":10,"y":12,"v":8},{"x":11,"y":12,"v":1},{"x":12,"y":12,"v":1},
{"x":1,"y":11,"v":14},{"x":2,"y":11,"v":14},{"x":3,"y":11,"v":10},{"x":4,"y":11,"v":12},{"x":5,"y":11,"v":8},{"x":6,"y":11,"v":5},{"x":7,"y":11,"v":6},{"x":8,"y":11,"v":10},{"x":9,"y":11,"v":8},{"x":10,"y":11,"v":1},{"x":11,"y":11,"v":1},
{"x":1,"y":10,"v":12},{"x":2,"y":10,"v":12},{"x":3,"y":10,"v":12},{"x":4,"y":10,"v":12},{"x":5,"y":10,"v":10},{"x":6,"y":10,"v":6},{"x":7,"y":10,"v":6},{"x":8,"y":10,"v":6},{"x":9,"y":10,"v":1},{"x":10,"y":10,"v":1},
{"x":1,"y":9,"v":8},{"x":2,"y":9,"v":10},{"x":3,"y":9,"v":10},{"x":4,"y":9,"v":10},{"x":5,"y":9,"v":6},{"x":6,"y":9,"v":6},{"x":7,"y":9,"v":8},{"x":8,"y":9,"v":1},{"x":9,"y":9,"v":1},
{"x":1,"y":8,"v":10},{"x":2,"y":8,"v":9},{"x":3,"y":8,"v":10},{"x":4,"y":8,"v":6},{"x":5,"y":8,"v":5},{"x":6,"y":8,"v":8},{"x":7,"y":8,"v":1},{"x":8,"y":8,"v":1},
{"x":1,"y":7,"v":10},{"x":2,"y":7,"v":9},{"x":3,"y":7,"v":6},{"x":4,"y":7,"v":5},{"x":5,"y":7,"v":8},{"x":6,"y":7,"v":1},{"x":7,"y":7,"v":1},
{"x":1,"y":6,"v":5},{"x":2,"y":6,"v":6},{"x":3,"y":6,"v":5},{"x":4,"y":6,"v":8},{"x":5,"y":6,"v":1},{"x":6,"y":6,"v":1},
{"x":1,"y":5,"v":4},{"x":2,"y":5,"v":5},{"x":3,"y":5,"v":8},{"x":4,"y":5,"v":1},{"x":5,"y":5,"v":1},
{"x":1,"y":4,"v":10},{"x":2,"y":4,"v":5},{"x":3,"y":4,"v":1},{"x":4,"y":4,"v":1},
{"x":1,"y":3,"v":8},{"x":2,"y":3,"v":1},{"x":3,"y":3,"v":1},
{"x":1,"y":2,"v":1},{"x":2,"y":2,"v":1},
{"x":1,"y":1,"v":1}
]}}
